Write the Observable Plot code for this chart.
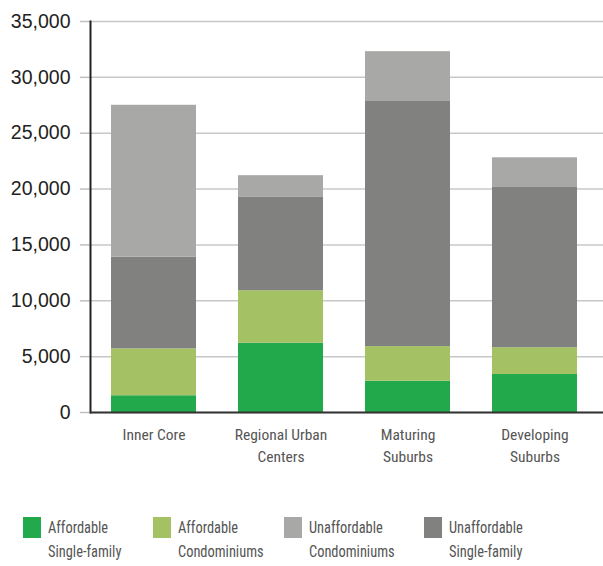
<!DOCTYPE html>
<html>
<head>
<meta charset="utf-8">
<script src="https://cdn.jsdelivr.net/npm/d3@7"></script>
<script src="https://cdn.jsdelivr.net/npm/@observablehq/plot@0.6"></script>
<style>
  body { margin: 0; background: #fff; }
  #wrap { position: relative; width: 603px; height: 566px; }
  #legend { position: absolute; left: 0; top: 517px; width: 603px; height: 49px;
    font-family: "Liberation Sans Narrow", "Roboto Condensed", "Roboto", sans-serif;
    font-size: 16px; color: #555; }
  .item { position: absolute; top: 0; }
  .sw { position: absolute; left: 0; top: 0; width: 18px; height: 21px; }
  .lab { position: absolute; left: 25px; top: -1px; line-height: 24px; white-space: nowrap;
    transform: scaleX(0.9); transform-origin: left top; }
</style>
</head>
<body>
<div id="wrap"><div id="chart"></div><div id="legend"></div></div>
<script>
const regions = ["Inner Core", "Regional Urban Centers", "Maturing Suburbs", "Developing Suburbs"];
const regionLabels = ["Inner Core", "Regional Urban\nCenters", "Maturing\nSuburbs", "Developing\nSuburbs"];
const stackOrder = ["Affordable Single-family", "Affordable Condominiums", "Unaffordable Single-family", "Unaffordable Condominiums"];
const affordableSingleFamily = [1500, 6200, 2800, 3400];
const affordableCondominiums = [4200, 4700, 3100, 2400];
const unaffordableSingleFamily = [8200, 8400, 22000, 14400];
const unaffordableCondominiums = [13600, 1900, 4400, 2600];
const colors = ["#21a94c", "#a4c164", "#81817f", "#a8a8a6"];
const yTicks = [0, 5000, 10000, 15000, 20000, 25000, 30000, 35000];
const legendOrder = [
  {key: "Affordable Single-family", lines: ["Affordable", "Single-family"], color: "#21a94c", left: 23},
  {key: "Affordable Condominiums", lines: ["Affordable", "Condominiums"], color: "#a4c164", left: 153},
  {key: "Unaffordable Condominiums", lines: ["Unaffordable", "Condominiums"], color: "#a8a8a6", left: 284},
  {key: "Unaffordable Single-family", lines: ["Unaffordable", "Single-family"], color: "#81817f", left: 424}
];

const series = [affordableSingleFamily, affordableCondominiums, unaffordableSingleFamily, unaffordableCondominiums];
const data = [];
regions.forEach((r, i) => {
  stackOrder.forEach((s, j) => data.push({region: r, type: s, value: series[j][i]}));
});
const labelMap = new Map(regions.map((r, i) => [r, regionLabels[i]]));

const fontNarrow = "Liberation Sans Narrow, Roboto Condensed, Roboto, sans-serif";

const chart = Plot.plot({
  width: 603,
  height: 480,
  marginTop: 21,
  marginBottom: 68,
  marginLeft: 90,
  marginRight: 0,
  x: {domain: regions, range: [90, 598], paddingInner: 0.327, paddingOuter: 0.148},
  y: {domain: [0, 35000]},
  color: {domain: stackOrder, range: colors},
  marks: [
    Plot.gridY(yTicks, {stroke: "#c8c8c8", strokeOpacity: 1, strokeWidth: 1.5}),
    Plot.barY(data, {x: "region", y: "value", fill: "type", order: stackOrder}),
    Plot.axisY(yTicks, {tickSize: 10, tickPadding: 10, tickFormat: d3.format(","), stroke: "#c0c0c0", strokeWidth: 1.5,
      fontSize: 19.5, fill: "#222", fontFamily: "Liberation Sans, Arial, sans-serif", label: null}),
    Plot.axisX({tickSize: 0, tickPadding: 12, tickFormat: d => labelMap.get(d), fontSize: 15.5,
      fill: "#555", fontFamily: fontNarrow, lineHeight: 1.42, label: null}),
    Plot.frame({anchor: "left", stroke: "#222", strokeWidth: 2}),
    Plot.ruleY([0], {stroke: "#333", strokeWidth: 2})
  ]
});
document.getElementById("chart").appendChild(chart);

const legend = document.getElementById("legend");
legendOrder.forEach(it => {
  const d = document.createElement("div");
  d.className = "item";
  d.style.left = it.left + "px";
  d.innerHTML = `<div class="sw" style="background:${it.color}"></div><div class="lab">${it.lines.join("<br>")}</div>`;
  legend.appendChild(d);
});
</script>
</body>
</html>
